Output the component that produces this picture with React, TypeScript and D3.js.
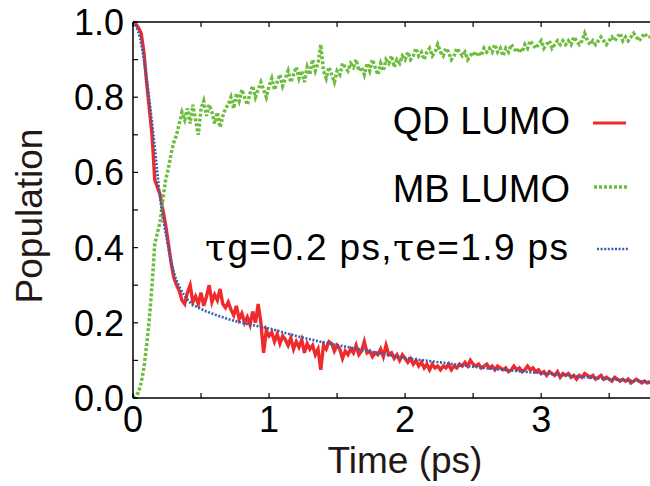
import React from "react";
import * as d3 from "d3";

// time grid (ps), sampled every 0.02 ps
const timeStep = 0.02;
const qdLumo = [
  1.0, 0.995, 0.985, 0.97, 0.92, 0.84, 0.77, 0.7, 0.58, 0.56,
  0.54, 0.5, 0.46, 0.41, 0.36, 0.32, 0.3, 0.285, 0.26, 0.25,
  0.28, 0.3, 0.255, 0.27, 0.25, 0.28, 0.245, 0.27, 0.3, 0.255,
  0.275, 0.26, 0.29, 0.25, 0.24, 0.255, 0.235, 0.22, 0.245, 0.21,
  0.225, 0.2, 0.215, 0.195, 0.23, 0.2, 0.25, 0.2, 0.12, 0.18,
  0.165, 0.175, 0.15, 0.17, 0.145, 0.165, 0.155, 0.14, 0.16, 0.13,
  0.15, 0.135, 0.155, 0.12, 0.145, 0.13, 0.14, 0.115, 0.13, 0.075,
  0.14, 0.13, 0.15, 0.145, 0.125, 0.14, 0.13, 0.105, 0.125, 0.115,
  0.13, 0.12, 0.14, 0.115, 0.125, 0.15, 0.12, 0.125, 0.11, 0.12,
  0.115, 0.13, 0.11, 0.14, 0.115, 0.12, 0.105, 0.115, 0.1, 0.115,
  0.105, 0.095, 0.105, 0.09, 0.1, 0.085, 0.095, 0.08, 0.09, 0.075,
  0.09, 0.08, 0.085, 0.075, 0.085, 0.08, 0.09, 0.075, 0.085, 0.08,
  0.09, 0.085, 0.095, 0.085, 0.1, 0.09, 0.085, 0.09, 0.08, 0.085,
  0.09, 0.08, 0.085, 0.075, 0.085, 0.08, 0.075, 0.08, 0.07, 0.075,
  0.085, 0.075, 0.08, 0.07, 0.075, 0.085, 0.075, 0.08, 0.07, 0.075,
  0.065, 0.07, 0.06, 0.07, 0.065, 0.06, 0.07, 0.055, 0.065, 0.06,
  0.065, 0.055, 0.06, 0.05, 0.06, 0.055, 0.065, 0.06, 0.055, 0.06,
  0.05, 0.055, 0.06, 0.05, 0.055, 0.05, 0.045, 0.055, 0.05, 0.045,
  0.05, 0.045, 0.05, 0.04, 0.045, 0.05, 0.045, 0.04, 0.045, 0.04,
  0.042,
];
const mbLumo = [
  0.0, 0.005, 0.015, 0.04, 0.08, 0.14, 0.21, 0.3, 0.41, 0.44,
  0.47, 0.53, 0.58, 0.61, 0.65, 0.68, 0.7, 0.73, 0.76, 0.74,
  0.77, 0.73, 0.78, 0.74, 0.7, 0.77, 0.79, 0.75, 0.78, 0.76,
  0.73, 0.76, 0.72, 0.75, 0.77, 0.78, 0.8, 0.77, 0.81, 0.79,
  0.82, 0.8, 0.78, 0.81, 0.83, 0.8, 0.82, 0.84, 0.82, 0.8,
  0.83, 0.85, 0.82, 0.84, 0.86, 0.83, 0.85, 0.87, 0.84, 0.86,
  0.88, 0.85, 0.87, 0.84, 0.88, 0.86, 0.9, 0.87, 0.89, 0.94,
  0.87, 0.85, 0.88, 0.86, 0.84, 0.87, 0.86, 0.89, 0.88, 0.87,
  0.89, 0.88, 0.9, 0.87, 0.88, 0.86, 0.89, 0.87, 0.9, 0.88,
  0.86, 0.89, 0.87, 0.9, 0.89, 0.91, 0.88, 0.9, 0.89, 0.91,
  0.9, 0.92, 0.9, 0.91, 0.93, 0.91, 0.92, 0.9, 0.92, 0.93,
  0.91, 0.92, 0.94, 0.92, 0.91, 0.93, 0.92, 0.9, 0.91, 0.93,
  0.92, 0.91, 0.92, 0.9, 0.91, 0.92, 0.91, 0.92, 0.91, 0.93,
  0.92, 0.93, 0.92, 0.94, 0.92, 0.93, 0.91, 0.93, 0.92, 0.94,
  0.93, 0.92, 0.93, 0.92, 0.94, 0.93, 0.95, 0.94, 0.93, 0.94,
  0.95, 0.93, 0.94, 0.95, 0.93, 0.94, 0.95, 0.94, 0.95, 0.94,
  0.95, 0.94, 0.96, 0.95, 0.94, 0.95, 0.97, 0.95, 0.94, 0.95,
  0.94, 0.95, 0.96, 0.95, 0.94, 0.95, 0.96, 0.95, 0.96, 0.97,
  0.95, 0.96, 0.95, 0.96, 0.97, 0.96, 0.95, 0.96, 0.97, 0.96,
  0.96,
];
const fitTimes = [0, 0.05, 0.1, 0.15, 0.2, 0.25, 0.3, 0.35, 0.4, 0.5, 0.6, 0.7, 0.8, 1.0, 1.2, 1.4, 1.6, 1.8, 2.0, 2.25, 2.5, 2.75, 3.0, 3.25, 3.5, 3.8];
const fitValues = [1.0, 0.96, 0.85, 0.7, 0.53, 0.42, 0.335, 0.29, 0.262, 0.237, 0.222, 0.21, 0.2, 0.185, 0.165, 0.148, 0.134, 0.12, 0.107, 0.095, 0.083, 0.074, 0.066, 0.058, 0.05, 0.043];

const xMajorTicks = [0, 1, 2, 3];
const xMinorTicks = [0, 0.5, 1, 1.5, 2, 2.5, 3, 3.5];
const yMajorTicks = [0, 0.2, 0.4, 0.6, 0.8, 1.0];
const yMinorTicks = [0, 0.1, 0.2, 0.3, 0.4, 0.5, 0.6, 0.7, 0.8, 0.9, 1.0];

const legendNames = ["QD LUMO", "MB LUMO"];

const W = 650;
const H = 486;
const left = 133;
const right = 650;
const top = 22;
const bottom = 398;

export default function App() {
  const x = d3.scaleLinear().domain([0, 3.8]).range([left, right]);
  const y = d3.scaleLinear().domain([0, 1]).range([bottom, top]);
  const qdPts = qdLumo.map((v, i) => [i * timeStep, v] as [number, number]);
  const mbPts = mbLumo.map((v, i) => [i * timeStep, v] as [number, number]);
  const fitPts = fitValues.map((v, i) => [fitTimes[i], v] as [number, number]);
  const line = d3.line<[number, number]>().x((d) => x(d[0])).y((d) => y(d[1]));
  const smooth = d3
    .line<[number, number]>()
    .x((d) => x(d[0]))
    .y((d) => y(d[1]))
    .curve(d3.curveMonotoneX);
  const font = "'Liberation Sans', Arial, sans-serif";
  const red = "#ee2a2c";
  const green = "#6dbd3e";
  const blue = "#2d62b5";
  const tick = 5;
  return (
    <svg width={W} height={H} style={{ position: "absolute", left: 0, top: 0 }} fontFamily={font}>
      <rect width={W} height={H} fill="#fff" />
      <defs>
        <clipPath id="plot">
          <rect x={left} y={top - 2} width={right - left} height={bottom - top + 2} />
        </clipPath>
      </defs>
      <g clipPath="url(#plot)">
        <path d={line(qdPts) || ""} fill="none" stroke={red} strokeWidth={3.4} strokeLinejoin="miter" />
        <path d={line(mbPts) || ""} fill="none" stroke={green} strokeWidth={3.5} strokeDasharray="3 2" />
        <path d={smooth(fitPts) || ""} fill="none" stroke={blue} strokeWidth={2.6} strokeDasharray="2 1.6" />
      </g>
      <line x1={left} x2={left} y1={top} y2={bottom} stroke="#000" strokeWidth={1.5} />
      <line x1={left} x2={right} y1={bottom} y2={bottom} stroke="#000" strokeWidth={1.5} />
      <line x1={left} x2={right} y1={top} y2={top} stroke="#000" strokeWidth={1.5} />
      {xMinorTicks.map((t) => (
        <g key={"xt" + t}>
          <line x1={x(t)} x2={x(t)} y1={bottom} y2={bottom - tick} stroke="#000" strokeWidth={1.2} />
          <line x1={x(t)} x2={x(t)} y1={top} y2={top + tick} stroke="#000" strokeWidth={1.2} />
        </g>
      ))}
      {yMinorTicks.map((t) => (
        <line key={"yt" + t} x1={left} x2={left + tick} y1={y(t)} y2={y(t)} stroke="#000" strokeWidth={1.2} />
      ))}
      {xMajorTicks.map((t) => (
        <text key={"xl" + t} x={x(t)} y={432} textAnchor="middle" fontSize={36} fill="#000">
          {t}
        </text>
      ))}
      {yMajorTicks.map((t) => (
        <text key={"yl" + t} x={124} y={y(t) + 13} textAnchor="end" fontSize={36} fill="#000">
          {t.toFixed(1)}
        </text>
      ))}
      <text x={405} y={473} textAnchor="middle" fontSize={37} fill="#231815">
        Time (ps)
      </text>
      <text transform="translate(42,216) rotate(-90)" textAnchor="middle" fontSize={37} fill="#231815">
        Population
      </text>
      <text x={570} y={134} textAnchor="end" fontSize={38} fill="#000">{legendNames[0]}</text>
      <line x1={593} x2={626} y1={123} y2={123} stroke={red} strokeWidth={3} />
      <text x={570} y={202} textAnchor="end" fontSize={38} fill="#000">{legendNames[1]}</text>
      <line x1={594} x2={628} y1={187} y2={187} stroke={green} strokeWidth={3.5} strokeDasharray="3 2" />
      <text x={205} y={260} fontSize={37} fill="#000" textLength={363} lengthAdjust="spacing">
        <tspan fontFamily="'DejaVu Serif', serif" fontSize={38}>τ</tspan>g=0.2 ps,<tspan fontFamily="'DejaVu Serif', serif" fontSize={38}>τ</tspan>e=1.9 ps
      </text>
      <line x1={597} x2={628} y1={249} y2={249} stroke={blue} strokeWidth={2.6} strokeDasharray="2 1.6" />
    </svg>
  );
}
